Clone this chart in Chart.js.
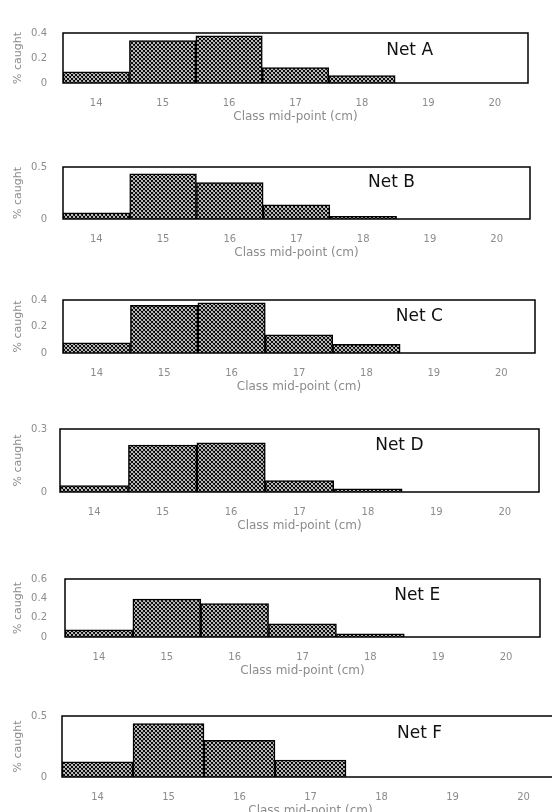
<!DOCTYPE html>
<html>
<head>
<meta charset="utf-8">
<script src="https://cdn.jsdelivr.net/npm/chart.js@4.4.1/dist/chart.umd.min.js"></script>
<style>
html, body { margin: 0; padding: 0; background: #fff; width: 552px; height: 812px; overflow: hidden; }
canvas { position: absolute; left: 0; }
</style>
</head>
<body>
<canvas id="netA"></canvas>
<canvas id="netB"></canvas>
<canvas id="netC"></canvas>
<canvas id="netD"></canvas>
<canvas id="netE"></canvas>
<canvas id="netF"></canvas>
<script>
// class mid-points (cm)
const classes = ['14', '15', '16', '17', '18', '19', '20'];

// % caught per class
const netA = [0.09, 0.34, 0.377, 0.123, 0.06, 0, 0];
const netB = [0.06, 0.435, 0.35, 0.137, 0.026, 0, 0];
const netC = [0.076, 0.359, 0.379, 0.137, 0.066, 0, 0];
const netD = [0.03, 0.224, 0.234, 0.054, 0.015, 0, 0];
const netE = [0.075, 0.393, 0.346, 0.135, 0.033, 0, 0];
const netF = [0.125, 0.4375, 0.30, 0.139, 0, 0, 0];

// y tick labels per panel
const ticksA = [0, 0.2, 0.4];
const ticksB = [0, 0.5];
const ticksC = [0, 0.2, 0.4];
const ticksD = [0, 0.3];
const ticksE = [0, 0.2, 0.4, 0.6];
const ticksF = [0, 0.5];

const netNames = ['Net A', 'Net B', 'Net C', 'Net D', 'Net E', 'Net F'];

// plot box of each panel on the page, and where its name sits inside it
const panels = [
    { id: 'netA', data: netA, ticks: ticksA, top: 21,  bottom: 83,  left: 63, right: 528, width: 552, nx: 0.695, ny: 0.36 },
    { id: 'netB', data: netB, ticks: ticksB, top: 155, bottom: 219, left: 63, right: 530, width: 552, nx: 0.653, ny: 0.29 },
    { id: 'netC', data: netC, ticks: ticksC, top: 288, bottom: 353, left: 63, right: 535, width: 552, nx: 0.705, ny: 0.31 },
    { id: 'netD', data: netD, ticks: ticksD, top: 420, bottom: 492, left: 60, right: 539, width: 552, nx: 0.658, ny: 0.27 },
    { id: 'netE', data: netE, ticks: ticksE, top: 565, bottom: 637, left: 65, right: 540, width: 552, nx: 0.693, ny: 0.28 },
    { id: 'netF', data: netF, ticks: ticksF, top: 705, bottom: 777, left: 62, right: 559, width: 562, nx: 0.674, ny: 0.28 }
];

const padTop = 10;
const xAxisHeight = 41;
const gray = '#8c8c8c';

function makeHatch() {
    const tile = document.createElement('canvas');
    tile.width = 4;
    tile.height = 4;
    const c = tile.getContext('2d');
    c.fillStyle = '#fff';
    c.fillRect(0, 0, 4, 4);
    c.strokeStyle = '#000';
    c.lineWidth = 1.1;
    c.beginPath();
    c.moveTo(0, 0); c.lineTo(4, 4);
    c.moveTo(0, 4); c.lineTo(4, 0);
    c.moveTo(-2, 2); c.lineTo(2, 6);
    c.moveTo(2, -2); c.lineTo(6, 2);
    c.moveTo(-2, 2); c.lineTo(2, -2);
    c.moveTo(2, 6); c.lineTo(6, 2);
    c.stroke();
    return c.createPattern(tile, 'repeat');
}

// box round the plot area and the net name
const boxPlugin = {
    id: 'box',
    afterDatasetsDraw(chart) {
        const a = chart.chartArea;
        const ctx = chart.ctx;
        ctx.save();
        ctx.strokeStyle = '#000';
        ctx.lineWidth = 1.5;
        ctx.strokeRect(a.left, a.top, a.right - a.left, a.bottom - a.top);
        const p = chart.options.plugins.box;
        ctx.fillStyle = '#111';
        ctx.font = '17px "DejaVu Sans"';
        ctx.textBaseline = 'middle';
        ctx.textAlign = 'left';
        ctx.fillText(p.name, a.left + p.nx * (a.right - a.left), a.top + p.ny * (a.bottom - a.top));
        ctx.restore();
    }
};

panels.forEach((p, i) => {
    const canvas = document.getElementById(p.id);
    canvas.width = p.width;
    canvas.height = padTop + (p.bottom - p.top) + xAxisHeight;
    canvas.style.top = (p.top - padTop) + 'px';
    canvas.style.width = canvas.width + 'px';
    canvas.style.height = canvas.height + 'px';

    new Chart(canvas.getContext('2d'), {
        type: 'bar',
        data: {
            labels: classes,
            datasets: [{
                data: p.data,
                backgroundColor: makeHatch(),
                borderColor: '#000',
                borderWidth: 1.5,
                barPercentage: 1,
                categoryPercentage: 1
            }]
        },
        plugins: [boxPlugin],
        options: {
            responsive: false,
            animation: false,
            devicePixelRatio: 1,
            layout: { padding: { top: padTop, left: 0, right: p.width - p.right, bottom: 0 } },
            plugins: {
                legend: { display: false },
                tooltip: { enabled: false },
                box: { name: netNames[i], nx: p.nx, ny: p.ny }
            },
            scales: {
                x: {
                    grid: { display: false, drawTicks: false },
                    border: { display: false },
                    ticks: { color: gray, font: { family: 'DejaVu Sans', size: 10 }, padding: 14, maxRotation: 0, autoSkip: false },
                    title: { display: true, text: 'Class mid-point (cm)', color: gray, font: { family: 'DejaVu Sans', size: 12 }, padding: { top: 0, bottom: 0 } },
                    afterFit(scale) { scale.height = xAxisHeight; }
                },
                y: {
                    min: 0,
                    max: p.ticks[p.ticks.length - 1],
                    grid: { display: false, drawTicks: false },
                    border: { display: false },
                    afterBuildTicks(scale) { scale.ticks = p.ticks.map(v => ({ value: v })); },
                    ticks: { color: gray, font: { family: 'DejaVu Sans', size: 10 }, padding: p.left - 47, callback: v => String(v) },
                    title: { display: true, text: '% caught', color: gray, font: { family: 'DejaVu Sans', size: 11 }, padding: { top: 12, bottom: 0 } },
                    afterFit(scale) { scale.width = p.left; }
                }
            }
        }
    });
});
</script>
</body>
</html>
